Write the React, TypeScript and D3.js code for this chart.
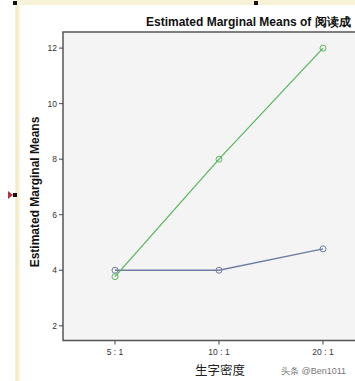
import React from "react";
import * as d3 from "d3";

const categories = ["5 : 1", "10 : 1", "20 : 1"];
const seriesBlue = [4.0, 4.0, 4.77];
const seriesGreen = [3.77, 8.0, 12.0];
const yTicks = [2, 4, 6, 8, 10, 12];
const seriesColors = ["#6f7ba0", "#5cb860"];

export default function App() {
  const W = 355, H = 381;
  const left = 63, top = 32, right = 375, bottom = 340.5;
  const x = d3.scalePoint<string>().domain(categories).range([left, right]).padding(0.5);
  const y = d3.scaleLinear().domain([1.47, 12.58]).range([bottom, top]);
  const line = d3.line<[string, number]>().x(d => x(d[0])!).y(d => y(d[1]));
  const series = [seriesBlue, seriesGreen];
  const font = "'Liberation Sans', Arial, sans-serif";
  return (
    <div style={{ position: "absolute", left: 0, top: 0 }}>
      <svg width={W} height={H} style={{ display: "block" }}>
        <rect x={0} y={0} width={W} height={H} fill="#ffffff" />
        <rect x={16} y={0} width={W - 16} height={5} fill="#f7f2d8" />
        <rect x={15} y={0} width={5} height={H} fill="#f7f2d8" />
        <line x1={17} y1={5} x2={17} y2={H} stroke="#ece3b8" strokeWidth={1} />
        <rect x={13} y={1} width={4} height={4} fill="#111" />
        <rect x={254} y={1} width={4} height={4} fill="#111" />
        <path d="M8,191 L13,195 L8,199 Z" fill="#b8323a" />
        <rect x={13} y={193} width={4} height={4} fill="#111" />
        <text x={146} y={26} fontFamily={font} fontWeight="bold" fontSize={12} fill="#111">
          Estimated Marginal Means of 阅读成
        </text>
        <rect x={left} y={top} width={right - left} height={bottom - top} fill="#f4f4f4" stroke="#555" strokeWidth={1.5} />
        {yTicks.map(t => (
          <g key={t}>
            <line x1={59} x2={left} y1={y(t)} y2={y(t)} stroke="#444" />
            <text x={57} y={y(t) + 3} textAnchor="end" fontFamily={font} fontSize={8.5} fill="#333">{t}</text>
          </g>
        ))}
        {categories.map(c => (
          <g key={c}>
            <line x1={x(c)} x2={x(c)} y1={bottom} y2={bottom + 4} stroke="#444" />
            <text x={x(c)} y={355} textAnchor="middle" fontFamily={font} fontSize={8.5} fill="#333">{c}</text>
          </g>
        ))}
        <text transform="translate(39,192) rotate(-90)" textAnchor="middle" fontFamily={font} fontWeight="bold" fontSize={12} fill="#111">
          Estimated Marginal Means
        </text>
        <text x={220} y={375} textAnchor="middle" fontFamily="'Noto Sans CJK SC', sans-serif" fontSize={12.5} fill="#222">生字密度</text>
        <text x={281} y={374} fontFamily={font} fontSize={9} fill="#777">头条 @Ben1011</text>
        {series.map((vals, i) => {
          const pts = categories.map((c, j) => [c, vals[j]] as [string, number]);
          return (
            <g key={i}>
              <path d={line(pts)!} fill="none" stroke={seriesColors[i]} strokeWidth={1.3} />
              {pts.map((p, j) => (
                <circle key={j} cx={x(p[0])} cy={y(p[1])} r={3} fill="none" stroke={seriesColors[i]} strokeWidth={1} />
              ))}
            </g>
          );
        })}
      </svg>
    </div>
  );
}
